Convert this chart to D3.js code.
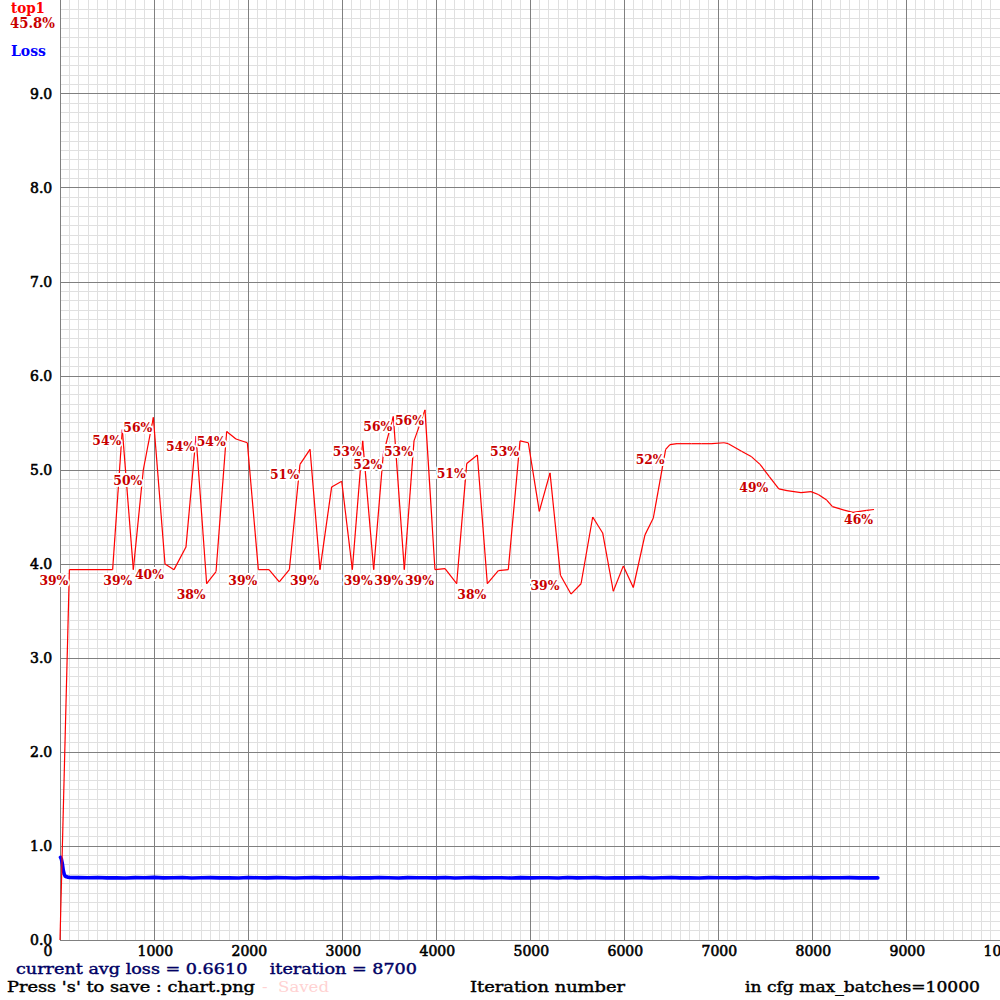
<!DOCTYPE html>
<html><head><meta charset="utf-8">
<script src="https://cdn.jsdelivr.net/npm/d3@7"></script>
<style>
html,body{margin:0;padding:0;background:#fff;}
svg{display:block;}
text{font-family:"DejaVu Serif",serif;}
</style>
</head><body>
<svg id="chart" width="1000" height="1000"></svg>
<script>
// ---------------- data ----------------
const accuracyName = "top1";
const lossName = "Loss";
const currentAvgLoss = 0.6610;
const currentIteration = 8700;
const maxBatches = 10000;
const maxImgLoss = 10;

const xTickValues = [0,1000,2000,3000,4000,5000,6000,7000,8000,9000,10000];
const yTickValues = [0,1,2,3,4,5,6,7,8,9];

// accuracy (top1, %) evaluations
const accIter = [0,100,560,663,780,886,993,1117,1213,1340,1447,1560,1660,1773,1872,1993,
  2110,2223,2333,2440,2553,2660,2766,2890,2997,3110,3220,3337,3439,3546,3663,3766,3883,3989,
  4096,4220,4327,4440,4546,4663,4769,4894,4982,5099,5213,5324,5436,5543,5667,5773,5886,5993,
  6099,6223,6312,6443,6489,6564,6720,6827,6936,7064,7110,7250,7358,7447,7546,7647,7734,7883,
  7989,8067,8156,8218,8351,8436,8582,8660];
const accValue = [0,39.4,39.4,54.3,39.4,50.0,55.6,40.0,39.4,41.8,53.6,37.9,39.2,54.1,53.3,52.9,
  39.4,39.4,38.1,39.4,50.6,52.2,39.4,48.2,48.8,39.4,53.1,39.4,51.7,55.7,39.4,53.1,56.4,39.4,
  39.5,37.9,50.7,51.6,37.9,39.3,39.4,53.1,52.9,45.6,49.7,38.8,36.8,37.9,45.0,43.3,37.1,39.8,
  37.5,43.1,44.9,52.2,52.7,52.8,52.8,52.8,52.8,52.9,52.8,52.0,51.4,50.6,49.3,48.0,47.8,47.6,
  47.7,47.4,46.8,46.1,45.7,45.5,45.7,45.8];
// evaluations that got a printed label on the chart
const accLabelIter = [100,663,780,886,993,1117,1447,1560,1773,2110,2553,2766,3220,3337,3439,
  3546,3663,3766,3883,3989,4327,4546,4894,5324,6443,7546,8660];

// average loss
const lossIter = [5,15,25,35,45,55,70,85,100,
  200,300,400,500,600,700,800,900,1000,1100,1200,1300,1400,1500,1600,1700,1800,1900,2000,
  2100,2200,2300,2400,2500,2600,2700,2800,2900,3000,3100,3200,3300,3400,3500,3600,3700,3800,
  3900,4000,4100,4200,4300,4400,4500,4600,4700,4800,4900,5000,5100,5200,5300,5400,5500,5600,
  5700,5800,5900,6000,6100,6200,6300,6400,6500,6600,6700,6800,6900,7000,7100,7200,7300,7400,
  7500,7600,7700,7800,7900,8000,8100,8200,8300,8400,8500,8600,8700];
const lossValue = [0.88,0.86,0.81,0.74,0.70,0.68,0.672,0.668,0.666,
  0.664,0.662,0.665,0.661,0.663,0.660,0.664,0.662,0.666,0.661,0.663,0.665,0.660,0.662,0.664,
  0.661,0.663,0.660,0.665,0.662,0.661,0.664,0.662,0.660,0.663,0.665,0.661,0.662,0.664,0.660,
  0.663,0.661,0.665,0.662,0.660,0.664,0.662,0.663,0.661,0.665,0.660,0.662,0.664,0.661,0.663,
  0.662,0.660,0.664,0.661,0.663,0.662,0.660,0.665,0.661,0.662,0.664,0.660,0.663,0.661,0.662,
  0.664,0.660,0.663,0.665,0.661,0.662,0.660,0.664,0.662,0.663,0.661,0.665,0.660,0.662,0.664,
  0.661,0.663,0.662,0.665,0.661,0.663,0.662,0.664,0.661,0.663,0.661];

// ---------------- layout ----------------
const imgOffset = 60, drawSize = 940;
const svg = d3.select("#chart");
svg.append("rect").attr("width",1000).attr("height",1000).attr("fill","#fff");

const x = d3.scaleLinear().domain([0, maxBatches]).range([imgOffset, imgOffset + drawSize]);
const yLoss = d3.scaleLinear().domain([0, maxImgLoss]).range([drawSize, 0]);
const yAcc = d3.scaleLinear().domain([0, 100]).range([drawSize, 0]);
const px = v => Math.floor(v) + 0.5;

// grid
const grid = svg.append("g").attr("shape-rendering","crispEdges");
const vMinor = d3.range(0, maxBatches + 1, maxBatches / 100);
const hMinor = d3.range(0, 100).map(i => i / 10);
grid.selectAll("line.hm").data(hMinor).join("line")
  .attr("x1", x(0)).attr("x2", 1000)
  .attr("y1", d => px(yLoss(d))).attr("y2", d => px(yLoss(d)))
  .attr("stroke", "#e0e0e0");
grid.selectAll("line.vm").data(vMinor).join("line")
  .attr("class","vm")
  .attr("x1", d => px(x(d))).attr("x2", d => px(x(d)))
  .attr("y1", 0).attr("y2", drawSize)
  .attr("stroke", "#e0e0e0");
grid.selectAll("line.hM").data(yTickValues).join("line")
  .attr("class","hM")
  .attr("x1", x(0)).attr("x2", 1000)
  .attr("y1", d => px(yLoss(d))).attr("y2", d => px(yLoss(d)))
  .attr("stroke", "#808080");
grid.selectAll("line.vM").data(xTickValues).join("line")
  .attr("class","vM")
  .attr("x1", d => px(x(d))).attr("x2", d => px(x(d)))
  .attr("y1", 0).attr("y2", drawSize)
  .attr("stroke", "#808080");

// axes (labels only)
const axX = svg.append("g").attr("transform", `translate(0,${drawSize})`)
  .call(d3.axisBottom(x).tickValues(xTickValues).tickSize(0).tickFormat(d3.format("d")));
axX.select(".domain").remove();
axX.selectAll("text").attr("text-anchor","start").attr("x",-17).attr("y",16).attr("dy",0)
  .attr("font-family","DejaVu Serif").attr("font-size",14).attr("fill","#000")
  .attr("stroke","#000").attr("stroke-width",0.6);

const axY = svg.append("g").attr("transform", `translate(${imgOffset},0)`)
  .call(d3.axisLeft(yLoss).tickValues(yTickValues).tickSize(0).tickFormat(d3.format(".1f")));
axY.select(".domain").remove();
axY.selectAll("text").attr("text-anchor","start").attr("x",-30).attr("y",4).attr("dy",0)
  .attr("font-family","DejaVu Serif").attr("font-size",14).attr("fill","#000")
  .attr("stroke","#000").attr("stroke-width",0.6);

// loss line
const lossData = lossIter.map((it, i) => ({it, v: lossValue[i]}));
svg.append("path").datum(lossData)
  .attr("d", d3.line().x(d => x(d.it)).y(d => yLoss(d.v)))
  .attr("fill","none").attr("stroke","#0000ff").attr("stroke-width",3.6)
  .attr("stroke-linejoin","round").attr("stroke-linecap","round");

// accuracy line + labels, in chronological order
const accData = accIter.map((it, i) => ({it, v: accValue[i]}));
const seg = d3.line().x(d => x(d.it)).y(d => yAcc(d.v));
const accG = svg.append("g");
accData.forEach((d, i) => {
  if (i > 0) {
    accG.append("path").attr("d", seg([accData[i-1], d]))
      .attr("fill","none").attr("stroke","#ff0000").attr("stroke-width",1.2);
  }
  if (accLabelIter.includes(d.it)) {
    accG.append("text")
      .attr("x", x(d.it) - 30).attr("y", yAcc(d.v) + 15)
      .attr("font-size", 12.5).attr("font-weight","bold").attr("fill", "#c80000")
      .attr("stroke","#fff").attr("stroke-width",4).attr("paint-order","stroke")
      .attr("stroke-linejoin","round")
      .attr("textLength",29).attr("lengthAdjust","spacingAndGlyphs")
      .text(d3.format(".0f")(d.v) + "%");
  }
});

// top-left legend
svg.append("text").attr("x",11).attr("y",13).attr("font-size",14).attr("font-weight","bold")
  .attr("fill","#ff0000").attr("textLength",34).attr("lengthAdjust","spacingAndGlyphs").text(accuracyName);
svg.append("text").attr("x",10).attr("y",28).attr("font-size",14).attr("font-weight","bold")
  .attr("fill","#c80000").attr("textLength",45).attr("lengthAdjust","spacingAndGlyphs")
  .text(d3.format(".1f")(accValue[accValue.length-1]) + "%");
svg.append("text").attr("x",11).attr("y",56).attr("font-size",14).attr("font-weight","bold")
  .attr("fill","#0000ff").attr("textLength",35).attr("lengthAdjust","spacingAndGlyphs").text(lossName);

// bottom texts
svg.append("text").attr("x",16).attr("y",974).attr("font-size",14).attr("fill","#000064")
  .attr("stroke","#000064").attr("stroke-width",0.4)
  .style("white-space","pre").attr("textLength",401).attr("lengthAdjust","spacingAndGlyphs")
  .text(`current avg loss = ${d3.format(".4f")(currentAvgLoss)}    iteration = ${currentIteration}`);
svg.append("text").attr("x",7).attr("y",992).attr("font-size",14).attr("fill","#000")
  .attr("stroke","#000").attr("stroke-width",0.4)
  .attr("textLength",248).attr("lengthAdjust","spacingAndGlyphs")
  .text("Press 's' to save : chart.png");
svg.append("text").attr("x",262).attr("y",992).attr("font-size",14).attr("fill","#ffd2d2")
  .style("white-space","pre").attr("textLength",67).attr("lengthAdjust","spacingAndGlyphs")
  .text("-  Saved");
svg.append("text").attr("x",470).attr("y",992).attr("font-size",14).attr("fill","#000")
  .attr("stroke","#000").attr("stroke-width",0.4)
  .attr("textLength",155).attr("lengthAdjust","spacingAndGlyphs")
  .text("Iteration number");
svg.append("text").attr("x",745).attr("y",992).attr("font-size",14).attr("fill","#000")
  .attr("stroke","#000").attr("stroke-width",0.4)
  .attr("textLength",235).attr("lengthAdjust","spacingAndGlyphs")
  .text(`in cfg max_batches=${maxBatches}`);
</script>
</body></html>
